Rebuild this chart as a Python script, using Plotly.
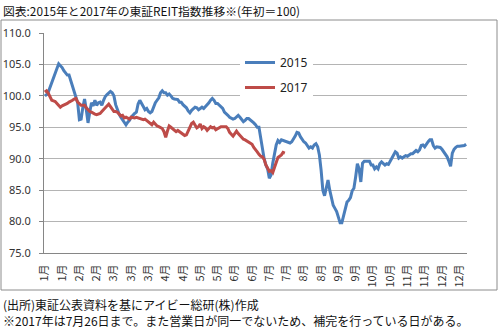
import plotly.graph_objects as go

# J-REIT index (start of year = 100), one value per trading day
index_2015 = [
    100.0, 100.2, 100.6, 101.4, 102.2, 102.9, 103.7, 104.5, 105.1, 104.8,
    104.5, 104.0, 103.7, 103.3, 103.3, 102.4, 101.7, 100.9, 100.0, 98.9,
    96.2, 96.3, 98.2, 99.5, 97.8, 95.7, 97.4, 98.9, 98.4, 99.3,
    98.5, 98.9, 99.0, 98.5, 99.3, 99.9, 100.2, 100.5, 100.7, 100.5,
    100.0, 98.6, 97.7, 97.1, 96.6, 96.2, 95.7, 95.4, 95.8, 96.1,
    96.6, 97.0, 97.2, 97.4, 98.7, 99.3, 98.9, 98.3, 97.8, 98.0,
    97.5, 97.3, 97.5, 98.3, 98.9, 99.3, 99.7, 100.5, 100.8, 100.5,
    100.5, 100.1, 100.3, 100.0, 99.6, 99.5, 99.5, 99.4, 99.0, 99.0,
    98.6, 98.4, 98.1, 97.6, 97.3, 97.7, 98.0, 98.2, 98.1, 97.8,
    98.0, 98.2, 98.0, 98.3, 98.5, 98.9, 99.3, 99.6, 99.3, 98.8,
    98.8, 98.5, 98.2, 98.0, 97.4, 97.2, 96.9, 96.6, 96.5, 96.3,
    96.4, 96.6, 96.9, 96.6, 96.2, 95.9, 96.1, 96.4, 96.4, 96.2,
    95.9, 95.7, 95.4, 95.0, 95.0, 93.3, 91.4, 90.0, 89.0, 88.4,
    86.9, 87.4, 89.3, 90.6, 92.2, 92.9, 92.6, 93.0, 92.9, 92.8,
    92.7, 92.7, 92.5, 92.7, 93.1, 93.6, 94.2, 94.1, 93.5, 93.0,
    92.7, 92.5, 92.0, 91.7, 91.9, 91.7, 92.2, 92.4, 91.9, 90.6,
    88.2, 85.0, 84.1, 85.5, 86.6, 85.0, 83.9, 82.6, 82.1, 81.6,
    80.7, 79.8, 79.8, 80.9, 82.3, 83.1, 83.4, 83.8, 84.9, 85.3,
    87.1, 89.2, 88.4, 86.3, 89.3, 89.6, 89.6, 89.6, 89.6, 89.0,
    89.0, 88.4, 88.7, 88.4, 89.2, 89.5, 89.2, 89.0, 89.2, 89.1,
    89.6, 90.1, 90.7, 91.1, 90.9, 90.1, 90.3, 90.1, 90.3, 90.5,
    90.4, 90.6, 90.8, 90.8, 91.1, 91.3, 91.1, 91.4, 92.1, 92.2,
    91.9, 92.4, 92.7, 93.0, 93.0, 92.1, 91.7, 91.9, 91.8, 91.8,
    91.5, 91.1, 90.7, 90.3, 89.6, 88.8, 90.9, 91.5, 91.8, 92.0,
    92.0, 92.0, 92.0, 92.1, 92.3,
]

index_2017 = [
    100.6, 100.8, 100.4, 99.8, 99.3, 99.2, 99.1, 98.8, 98.4, 98.2,
    98.4, 98.5, 98.7, 98.8, 99.0, 99.1, 99.3, 99.5, 99.6, 99.0,
    98.7, 98.5, 98.5, 98.5, 98.1, 97.8, 97.5, 97.4, 97.2, 97.1,
    97.0, 97.1, 97.2, 97.5, 97.8, 98.2, 98.5, 98.7, 98.3, 97.9,
    97.5, 97.5, 97.4, 97.1, 96.8, 96.9, 96.5, 96.6, 96.4, 96.3,
    96.6, 96.5, 96.5, 96.6, 96.5, 96.4, 96.3, 96.2, 96.3, 96.1,
    95.9, 95.7, 95.4, 95.8, 95.4, 95.2, 95.1, 94.9, 94.8, 94.3,
    93.4, 94.4, 95.2, 95.0, 94.8, 94.5, 94.3, 94.5, 94.3, 94.1,
    94.0, 93.7, 93.8, 94.4, 95.0, 95.6, 95.8, 95.3, 94.9, 95.1,
    95.5, 94.8, 95.1, 94.9, 94.5, 94.8, 95.1, 94.9, 95.0, 94.6,
    94.8, 95.0, 95.1, 95.1, 95.1, 95.1, 94.8, 94.2, 93.9, 93.6,
    94.0, 94.4, 94.0, 93.7, 93.4, 93.1, 93.0, 92.8, 92.7, 92.5,
    92.3, 91.8, 91.5, 91.1, 90.7, 90.4, 90.3, 89.9, 89.0, 88.6,
    88.0, 88.1, 87.8, 88.6, 89.5, 90.2, 90.4, 90.6, 91.0, 90.9,
]

# category labels shown every 10 trading days
month_labels = [
    "1月", "1月", "2月", "2月", "3月", "3月", "3月", "4月", "4月", "5月",
    "5月", "6月", "6月", "7月", "7月", "8月", "8月", "9月", "9月", "10月",
    "10月", "11月", "11月", "12月", "12月",
]
label_step = 10

title_text = "図表:2015年と2017年の東証REIT指数推移※(年初＝100)"
source_text = "(出所)東証公表資料を基にアイビー総研(株)作成"
note_text = "※2017年は7月26日まで。また営業日が同一でないため、補完を行っている日がある。"

days_2015 = list(range(len(index_2015)))
days_2017 = list(range(len(index_2017)))
label_positions = [i * label_step for i in range(len(month_labels))]
# category boundaries carry the small tick marks along the axis
boundaries = [d - 0.5 for d in days_2015] + [days_2015[-1] + 0.5]

JP_FONT = "Noto Sans CJK JP"
AXIS_COLOR = "#868686"
x_range = [-0.5, len(index_2015) - 0.5]

fig = go.Figure()
fig.add_trace(go.Scatter(
    x=days_2015, y=index_2015, mode="lines", name="2015",
    legendgroup="y2015",
    line=dict(color="#4A7EBB", width=3),
))
fig.add_trace(go.Scatter(
    x=days_2017, y=index_2017, mode="lines", name="2017",
    legendgroup="y2017",
    line=dict(color="#BE4B48", width=3),
))

# plot area in pixels: x 44..467, y 33..253
L, R, T, B = 44, 467, 33, 253
W, H = R - L, B - T


def px_x(x):
    return (x - L) / W


def px_y(y):
    return (B - y) / H


fig.update_layout(
    width=500, height=328,
    margin=dict(l=L, r=500 - R, t=T, b=328 - B),
    paper_bgcolor="white", plot_bgcolor="white",
    showlegend=True,
    legend=dict(
        x=px_x(240), y=px_y(48), xanchor="left", yanchor="top",
        bgcolor="white", borderwidth=0,
        font=dict(family="Noto Sans", size=12, color="#222222"),
        tracegroupgap=6, itemwidth=30,
    ),
    xaxis=dict(
        range=x_range, automargin=False,
        tickmode="array", tickvals=label_positions, ticktext=month_labels,
        tickangle=-90,
        tickfont=dict(family=JP_FONT, size=11, color="#333333"),
        showgrid=False, zeroline=False,
        showline=True, linecolor=AXIS_COLOR, linewidth=1,
        ticks="", ticklabelstandoff=6,
    ),
    xaxis2=dict(
        range=x_range, overlaying="x", anchor="y", side="bottom",
        automargin=False, showgrid=False, zeroline=False,
        showline=False, showticklabels=False,
        tickmode="array", tickvals=boundaries,
        ticks="outside", ticklen=4, tickcolor="#9a9a9a", tickwidth=1,
    ),
    yaxis=dict(
        range=[75, 110], tickmode="linear", tick0=75, dtick=5,
        tickformat=".1f", automargin=False,
        tickfont=dict(family="Noto Sans", size=11, color="#333333"),
        showgrid=True, gridcolor="#b4b4b4", gridwidth=1,
        zeroline=False,
        showline=True, linecolor=AXIS_COLOR, linewidth=1,
        ticks="outside", ticklen=4, tickcolor=AXIS_COLOR,
        ticklabelstandoff=6,
    ),
    shapes=[
        dict(type="rect", xref="paper", yref="paper",
             x0=px_x(1), x1=px_x(497), y0=px_y(290), y1=px_y(20),
             line=dict(color="#8c8c8c", width=1), fillcolor="rgba(0,0,0,0)",
             layer="below"),
    ],
    annotations=[
        dict(text=title_text, xref="paper", yref="paper",
             x=px_x(1), y=px_y(10), xanchor="left", yanchor="middle",
             showarrow=False, font=dict(family=JP_FONT, size=11.8, color="#111111")),
        dict(text=source_text + "<br>" + note_text, xref="paper", yref="paper",
             x=px_x(1), y=px_y(312.5), xanchor="left", yanchor="middle",
             align="left", showarrow=False,
             font=dict(family=JP_FONT, size=12, color="#111111")),
    ],
)

fig.write_html("out.html")
